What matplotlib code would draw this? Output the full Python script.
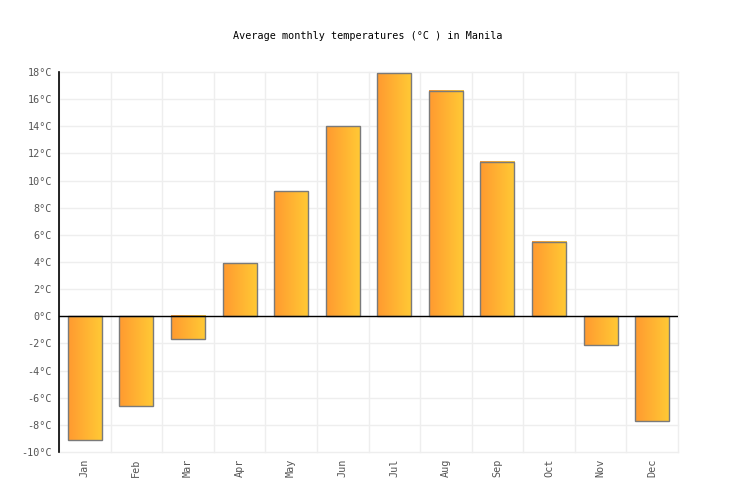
import numpy as np
import matplotlib
matplotlib.use("Agg")
import matplotlib.pyplot as plt
from matplotlib.colors import LinearSegmentedColormap

months = ["Jan", "Feb", "Mar", "Apr", "May", "Jun",
          "Jul", "Aug", "Sep", "Oct", "Nov", "Dec"]
temps = [-9.1, -6.6, -1.7, 3.9, 9.2, 14.0, 17.9, 16.6, 11.4, 5.5, -2.1, -7.7]
yticks = list(range(-10, 19, 2))

font = "DejaVu Sans Mono"
grad = LinearSegmentedColormap.from_list("bar", ["#ff9a30", "#ffca35"])

fig = plt.figure(figsize=(7.36, 5.0), dpi=100)
ax = fig.add_axes((59 / 736, 1 - 452 / 500, 619 / 736, 380 / 500))

x = np.arange(len(months))
width = 0.66
ramp = np.linspace(0, 1, 64).reshape(1, -1)
bars = ax.bar(x, temps, width=width, facecolor="none",
              edgecolor="#7a7a7a", linewidth=1.0, zorder=4)
for bar in bars:
    bx, by = bar.get_x(), bar.get_y()
    bw, bh = bar.get_width(), bar.get_height()
    ax.imshow(ramp, cmap=grad, aspect="auto", zorder=3,
              extent=(bx, bx + bw, by, by + bh), interpolation="bilinear")

ax.axhline(0, color="black", linewidth=1.0, zorder=5)
ax.set_xlim(-0.5, len(months) - 0.5)
ax.set_ylim(-10, 18)

ax.set_yticks(yticks)
ax.set_yticklabels(["%d\u00b0C" % v for v in yticks], family=font,
                   fontsize=7.3, color="#555555")
ax.set_xticks(x)
ax.set_xticklabels(months, rotation=90, family=font, fontsize=7.3,
                   color="#555555")
ax.tick_params(axis="both", length=0, pad=5)

# category boundaries as vertical grid lines
for b in np.arange(-0.5, len(months), 1):
    ax.axvline(b, color="#eeeeee", linewidth=1.0, zorder=0, clip_on=False)
ax.grid(True, which="major", axis="y", color="#eeeeee", linewidth=1.0, zorder=0)
ax.set_axisbelow(True)
for line in ax.get_ygridlines():
    line.set_clip_on(False)

for side in ["top", "right", "bottom"]:
    ax.spines[side].set_visible(False)
ax.spines["left"].set_color("black")
ax.spines["left"].set_linewidth(1.2)

fig.text(368 / 736, 1 - 36 / 500, "Average monthly temperatures (\u00b0C ) in Manila",
         ha="center", va="center", family=font, fontsize=7.3, color="black")

fig.savefig("out.png", dpi=100)
